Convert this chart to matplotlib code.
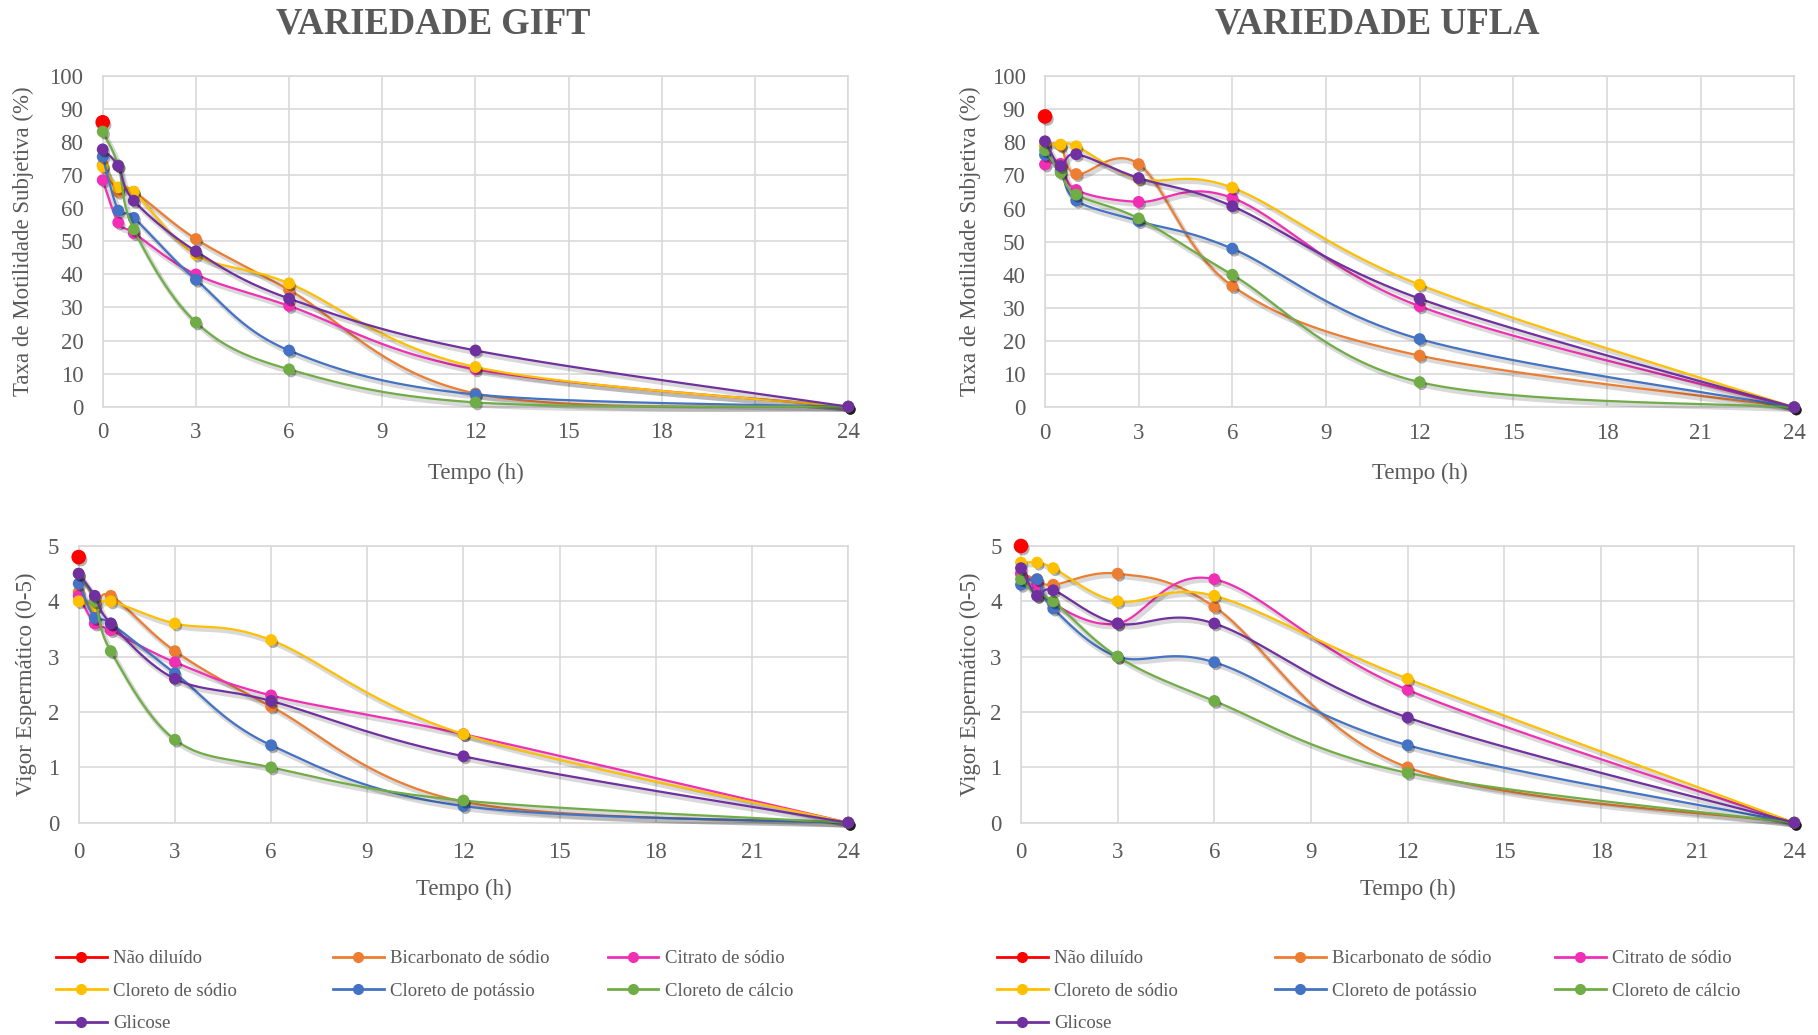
import numpy as np
import matplotlib
matplotlib.use("Agg")
import matplotlib.pyplot as plt
import matplotlib.patheffects as pe
from matplotlib.lines import Line2D

# ---------------- data ----------------
tempo = [0, 0.5, 1, 3, 6, 12, 24]
series_names = ["Não diluído", "Bicarbonato de sódio", "Citrato de sódio",
                "Cloreto de sódio", "Cloreto de potássio", "Cloreto de cálcio", "Glicose"]
colors = ["#FF0000", "#ED7D31", "#F02FB4", "#FFC000", "#4472C4", "#70AD47", "#7030A0"]

# GIFT - motilidade (%)
nd_mot_gift = 86.0
bic_mot_gift = [73, 65, 65, 50.7, 35.3, 4.0, 0]
cit_mot_gift = [68.5, 55.7, 52.5, 40, 30.5, 11.3, 0]
clna_mot_gift = [72.6, 66.3, 65, 46, 37.3, 12, 0]
clk_mot_gift = [75.6, 59.3, 57.1, 38.4, 17, 3.7, 0]
clca_mot_gift = [83.2, 73, 53.6, 25.5, 11.3, 1.3, 0]
gli_mot_gift = [77.8, 72.8, 62.3, 47, 32.7, 17, 0]

# UFLA - motilidade (%)
nd_mot_ufla = 87.8
bic_mot_ufla = [79, 79, 70.4, 73.4, 36.6, 15.6, 0]
cit_mot_ufla = [73.3, 73.5, 65.6, 62, 63.2, 30.5, 0]
clna_mot_ufla = [79.5, 79.3, 78.8, 69, 66.3, 37, 0]
clk_mot_ufla = [76.2, 71.5, 62.4, 56.2, 47.9, 20.6, 0]
clca_mot_ufla = [77.6, 70.8, 64.2, 57, 40, 7.6, 0]
gli_mot_ufla = [80.3, 72.8, 76.4, 69.2, 60.7, 32.8, 0]

# GIFT - vigor (0-5)
nd_vig_gift = 4.8
bic_vig_gift = [4.17, 3.9, 4.1, 3.1, 2.1, 0.38, 0]
cit_vig_gift = [4.1, 3.6, 3.48, 2.9, 2.3, 1.6, 0]
clna_vig_gift = [4.0, 3.9, 4.0, 3.6, 3.3, 1.6, 0]
clk_vig_gift = [4.32, 3.7, 3.6, 2.7, 1.4, 0.3, 0]
clca_vig_gift = [4.5, 4.0, 3.1, 1.5, 1.0, 0.4, 0]
gli_vig_gift = [4.5, 4.1, 3.6, 2.6, 2.2, 1.2, 0]

# UFLA - vigor (0-5)
nd_vig_ufla = 5.0
bic_vig_ufla = [4.5, 4.4, 4.3, 4.5, 3.9, 1.0, 0]
cit_vig_ufla = [4.5, 4.3, 3.95, 3.6, 4.4, 2.4, 0]
clna_vig_ufla = [4.7, 4.7, 4.6, 4.0, 4.1, 2.6, 0]
clk_vig_ufla = [4.3, 4.4, 3.87, 3.0, 2.9, 1.4, 0]
clca_vig_ufla = [4.4, 4.1, 4.0, 3.0, 2.2, 0.9, 0]
gli_vig_ufla = [4.6, 4.1, 4.2, 3.6, 3.6, 1.9, 0]

xticks = [0, 3, 6, 9, 12, 15, 18, 21, 24]

# ---------------- style ----------------
FONT = ["Liberation Serif", "DejaVu Serif"]
plt.rcParams["font.family"] = FONT
GRAY = "#595959"
GRID = "#D9D9D9"

W, H = 1818, 1035
fig = plt.figure(figsize=(W / 100, H / 100), dpi=100)


def add_axes_px(x0, y0, x1, y1):
    return fig.add_axes([x0 / W, 1 - y1 / H, (x1 - x0) / W, (y1 - y0) / H])


def smooth(x, y, ax):
    """Excel-like smoothed line (Catmull-Rom Bezier in screen-proportional space)."""
    bb = ax.get_position()
    xr = ax.get_xlim()[1] - ax.get_xlim()[0]
    yr = ax.get_ylim()[1] - ax.get_ylim()[0]
    sx = bb.width * W / xr
    sy = bb.height * H / yr
    P = np.column_stack([np.asarray(x, float) * sx, np.asarray(y, float) * sy])
    n = len(P)
    out = [P[0]]
    tt = np.linspace(0, 1, 40)[1:]
    for i in range(n - 1):
        p0 = P[i - 1] if i > 0 else P[i]
        p1, p2 = P[i], P[i + 1]
        p3 = P[i + 2] if i + 2 < n else P[i + 1]
        b1 = p1 + (p2 - p0) / 6.0
        b2 = p2 - (p3 - p1) / 6.0
        for t in tt:
            pt = ((1 - t) ** 3) * p1 + 3 * ((1 - t) ** 2) * t * b1 + 3 * (1 - t) * t * t * b2 + t ** 3 * p2
            out.append(pt)
    out = np.array(out)
    return out[:, 0] / sx, out[:, 1] / sy


line_fx = [pe.SimpleLineShadow(offset=(1.5, -2), shadow_color="black", alpha=0.15, linewidth=3.5),
           pe.Normal()]
mark_fx = [pe.SimplePatchShadow(offset=(1.5, -2), shadow_rgbFace="black", alpha=0.3),
           pe.Normal()]


def panel(ax, nd, series, ymax, yticks, ylabel, ylab_x, xlab_y, xpad):
    ax.set_xlim(0, 24)
    ax.set_ylim(0, ymax)
    ax.set_xticks(xticks)
    ax.set_yticks(yticks)
    ax.grid(True, color=GRID, linewidth=1.2)
    ax.set_axisbelow(True)
    for s in ax.spines.values():
        s.set_color(GRID)
        s.set_linewidth(1.2)
    ax.tick_params(length=0, labelsize=16.5, labelcolor=GRAY)
    ax.tick_params(axis="y", pad=14)
    ax.tick_params(axis="x", pad=xpad)
    ax.set_ylabel(ylabel, fontsize=16.5, color=GRAY)
    ax.yaxis.set_label_coords(ylab_x, 0.5)
    ax.set_xlabel("Tempo (h)", fontsize=16.5, color=GRAY)
    ax.xaxis.set_label_coords(0.5, xlab_y)
    # non-diluted
    ax.plot([tempo[0]], [nd], linestyle="none", marker="o", markersize=9.5,
            color=colors[0], clip_on=False, zorder=3, path_effects=mark_fx)
    for k, vals in enumerate(series):
        c = colors[k + 1]
        sxv, syv = smooth(tempo, vals, ax)
        ax.plot(sxv, syv, color=c, linewidth=1.6, clip_on=False, zorder=3 + k,
                path_effects=line_fx, solid_capstyle="round")
        ax.plot(tempo, vals, linestyle="none", marker="o", markersize=7.5,
                color=c, clip_on=False, zorder=3.5 + k, path_effects=mark_fx)


ax_tl = add_axes_px(102.7, 76, 848.3, 406.7)
ax_tr = add_axes_px(1045, 76, 1794.3, 407.3)
ax_bl = add_axes_px(78.7, 546, 848.3, 822.7)
ax_br = add_axes_px(1021, 546, 1794.3, 822.7)

mot_ticks = list(range(0, 101, 10))
vig_ticks = [0, 1, 2, 3, 4, 5]

panel(ax_tl, nd_mot_gift,
      [bic_mot_gift, cit_mot_gift, clna_mot_gift, clk_mot_gift, clca_mot_gift, gli_mot_gift],
      100, mot_ticks, "Taxa de Motilidade Subjetiva (%)", -0.092, -0.169, 11)
panel(ax_tr, nd_mot_ufla,
      [bic_mot_ufla, cit_mot_ufla, clna_mot_ufla, clk_mot_ufla, clca_mot_ufla, gli_mot_ufla],
      100, mot_ticks, "Taxa de Motilidade Subjetiva (%)", -0.085, -0.169, 11)
panel(ax_bl, nd_vig_gift,
      [bic_vig_gift, cit_vig_gift, clna_vig_gift, clk_vig_gift, clca_vig_gift, gli_vig_gift],
      5, vig_ticks, "Vigor Espermático (0-5)", -0.054, -0.203, 14)
panel(ax_br, nd_vig_ufla,
      [bic_vig_ufla, cit_vig_ufla, clna_vig_ufla, clk_vig_ufla, clca_vig_ufla, gli_vig_ufla],
      5, vig_ticks, "Vigor Espermático (0-5)", -0.052, -0.203, 14)

# titles
fig.text(433.6 / W, 1 - 24 / H, "VARIEDADE GIFT", ha="center", va="center",
         fontsize=26.3, fontweight="bold", color=GRAY)
fig.text(1377 / W, 1 - 24 / H, "VARIEDADE UFLA", ha="center", va="center",
         fontsize=26.3, fontweight="bold", color=GRAY)

# legends (one per column, two blocks)
handles = [Line2D([], [], color=c, linewidth=2, marker="o", markersize=7) for c in colors]
cols = [[0, 3, 6], [1, 4], [2, 5]]


def legend_block(xs, ytop):
    for x, idx in zip(xs, cols):
        fig.legend([handles[i] for i in idx], [series_names[i] for i in idx],
                   loc="upper left", bbox_to_anchor=(x / W, 1 - ytop / H),
                   frameon=False, fontsize=13.5, labelcolor=GRAY,
                   handlelength=2.7, handletextpad=0.35, labelspacing=0.82,
                   borderpad=0, borderaxespad=0)


legend_block([56, 333, 607.5], 950)
legend_block([997, 1275, 1555], 950)

fig.savefig("out.png", dpi=100)
